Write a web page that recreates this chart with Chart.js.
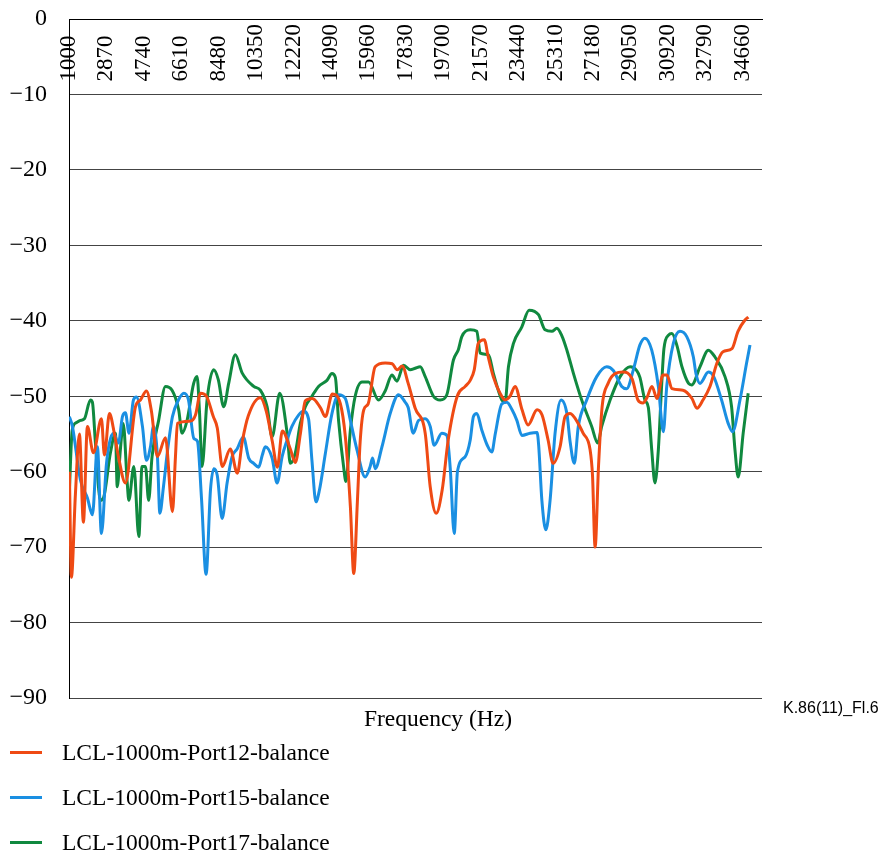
<!DOCTYPE html>
<html>
<head>
<meta charset="utf-8">
<title>LCL balance, 1000 m cable</title>
<script src="https://cdn.jsdelivr.net/npm/chart.js@4.4.1/dist/chart.umd.min.js"></script>
<style>
  html, body { margin: 0; padding: 0; background: #ffffff; }
  #wrap { position: relative; width: 883px; height: 853px; overflow: hidden; }
  #chart { position: absolute; left: 0; top: 0; }
  .serif { font-family: "Liberation Serif", "Times New Roman", serif; color: #000; white-space: nowrap; position: absolute; }
  #xtitle { left: 438px; top: 718px; transform: translate(-50%, -50%); font-size: 23.5px; }
  #figid { left: 783px; top: 708px; transform: translateY(-50%); font-family: "Liberation Sans", Arial, sans-serif; font-size: 16px; color: #000; position: absolute; white-space: nowrap; }
  .lg-mark { position: absolute; left: 10px; width: 32px; height: 3px; }
  .lg-text { left: 62px; transform: translateY(-50%); font-size: 23.5px; }
</style>
</head>
<body>
<div id="wrap">
  <canvas id="chart" width="883" height="853"></canvas>
  <div id="xtitle" class="serif">Frequency (Hz)</div>
  <div id="figid">K.86(11)_Fl.6</div>
  <div id="legend"></div>
</div>
<script>
// Frequency tick labels shown along the top of the plot (Hz)
const freqTicks = [1000, 2870, 4740, 6610, 8480, 10350, 12220, 14090, 15960, 17830,
                   19700, 21570, 23440, 25310, 27180, 29050, 30920, 32790, 34660];

// Series names
const seriesNames = ['LCL-1000m-Port12-balance', 'LCL-1000m-Port15-balance', 'LCL-1000m-Port17-balance'];

// LCL measurements, [frequency Hz, level dB]
const port12 = [
  [1020,-60],[1120,-74],[1320,-63],[1520,-55],[1720,-66.7],[1920,-54],[2220,-57.5],[2620,-53],
  [2770,-57.8],[3020,-52.3],[3270,-55],[3470,-58],[3820,-61.5],[4320,-51.4],[4570,-50.5],[4870,-49.3],
  [5120,-52],[5420,-58],[5820,-55.5],[6170,-65.3],[6320,-58],[6420,-53.6],[7070,-53.3],[7320,-52.5],
  [7570,-49.6],[7870,-50],[8210,-52.7],[8410,-54.2],[8660,-59.3],[9060,-57],[9410,-60.2],[9660,-56],
  [9960,-52.6],[10560,-50.2],[10860,-52],[11160,-56],[11410,-59.4],[11660,-54.6],[12060,-57],[12310,-58.8],
  [12560,-55],[12810,-50.6],[13160,-50.3],[13560,-51.5],[13810,-52.7],[14160,-49.7],[14560,-51],[14810,-55.4],
  [15060,-64.6],[15230,-73.5],[15410,-64],[15550,-56],[15730,-51.8],[15950,-51],[16300,-46.1],[16800,-45.6],
  [17150,-45.7],[17400,-46.5],[17650,-46],[17950,-48.3],[18300,-51.6],[18800,-54.9],[19050,-62],[19350,-65.5],
  [19650,-62.4],[19950,-55.8],[20400,-50],[20800,-48.7],[21050,-47.9],[21250,-46.5],[21450,-43],[21750,-42.5],
  [21950,-44.8],[22200,-47.4],[22540,-49.6],[22790,-50.5],[23040,-50],[23290,-48.7],[23640,-51.8],[23940,-53.8],
  [24390,-51.8],[24640,-52.5],[24940,-55.8],[25190,-58.9],[25540,-56.7],[25790,-52.7],[26040,-52.3],[26440,-53.6],
  [26690,-54.9],[27040,-57.1],[27160,-60.5],[27290,-70],[27460,-59.3],[27640,-51.4],[27940,-48.3],[28290,-47],
  [28690,-46.8],[29140,-47.7],[29430,-50.5],[29680,-50.9],[29880,-50.2],[30130,-48.7],[30380,-50.3],[30680,-47.2],
  [30880,-47.2],[31130,-49],[31680,-49.2],[32130,-50.3],[32380,-51.6],[32680,-50.5],[33030,-48.7],[33380,-45.6],
  [33680,-44.1],[34130,-43.7],[34430,-41.4],[34780,-39.9],[34950,-39.5]
];

const port15 = [
  [1020,-52.7],[1170,-54],[1570,-61.1],[1920,-63.5],[2170,-65.7],[2420,-56.7],[2620,-68.2],[2870,-59],
  [3020,-56.2],[3220,-54.9],[3470,-56.2],[3670,-52.7],[3820,-52.2],[4000,-54.9],[4220,-50.5],[4370,-50.1],
  [4670,-54],[4870,-58.5],[5070,-56.7],[5220,-54],[5420,-58],[5540,-65.5],[5720,-62],[5920,-57.3],
  [6170,-52.7],[6470,-50.5],[6740,-49.6],[6970,-50.5],[7240,-55.6],[7420,-56],[7620,-63.5],[7850,-73.6],
  [8070,-62.4],[8240,-59.6],[8410,-60.5],[8650,-66.2],[8900,-61.5],[9150,-58],[9400,-57],[9710,-55.4],
  [9980,-58.2],[10230,-58.9],[10480,-59.4],[10660,-57.8],[10810,-56.7],[11150,-58.2],[11400,-61.5],[11650,-58],
  [11900,-55.8],[12140,-54],[12470,-52.5],[12720,-52],[12970,-53],[13140,-58.5],[13340,-64],[13510,-62.5],
  [13810,-57.6],[14140,-52.3],[14470,-49.8],[14810,-50.3],[15060,-53.2],[15390,-57.1],[15800,-60.7],[16050,-59.3],
  [16170,-58.2],[16300,-59.6],[16640,-56.7],[17050,-52.3],[17470,-49.8],[17800,-50.8],[17950,-51.5],[18200,-54.9],
  [18470,-53.2],[18800,-53],[19050,-54],[19250,-56.5],[19630,-54.9],[19880,-55.2],[20050,-59.5],[20250,-68.2],
  [20410,-60],[20800,-58],[21050,-55.8],[21210,-52.7],[21380,-52.3],[21630,-54.5],[21900,-56.5],[22130,-57.4],
  [22300,-55],[22630,-51],[22880,-50.8],[23140,-51.8],[23380,-53.2],[23630,-55.2],[24040,-54.9],[24390,-54.8],
  [24470,-56.5],[24630,-63.8],[24830,-67.7],[25040,-63.8],[25290,-54.9],[25590,-50.5],[25880,-52.3],[26040,-56],
  [26250,-58.9],[26450,-54],[26870,-50.5],[27370,-47.4],[27870,-46.1],[28200,-46.6],[28620,-48.7],[28870,-49],
  [29200,-46.5],[29530,-43.2],[29780,-42.3],[30120,-43.9],[30450,-48.7],[30700,-54.7],[30870,-48.7],[31200,-43],
  [31530,-41.4],[31870,-42.1],[32200,-44.8],[32330,-47],[32530,-48.3],[32950,-46.8],[33200,-47.3],[33610,-50.5],
  [33940,-53.6],[34160,-54.7],[34530,-50.5],[34860,-45.6],[35030,-43.2]
];

const port17 = [
  [1020,-62.4],[1160,-54.5],[1370,-53.5],[1570,-53.2],[1770,-53],[2070,-50.5],[2170,-50.8],[2320,-56.2],
  [2570,-63.8],[2720,-63.5],[3070,-57.5],[3320,-54.9],[3410,-62],[3570,-57],[3710,-53.6],[3910,-61.5],
  [3990,-63.8],[4240,-59.3],[4490,-68.6],[4650,-59.3],[4820,-59.3],[4980,-63.8],[5150,-58],[5480,-53.2],
  [5820,-48.7],[6150,-49.2],[6480,-51.8],[6650,-54.9],[6900,-53.2],[7230,-48.3],[7400,-47.4],[7520,-52],
  [7650,-59.3],[7900,-50.5],[8230,-46.5],[8460,-47.8],[8730,-51.4],[8980,-48.3],[9310,-44.5],[9650,-46.9],
  [10230,-48.7],[10560,-49.2],[10900,-51.4],[11150,-55.4],[11530,-49.6],[11900,-54.9],[12060,-58.9],[12310,-57.5],
  [12560,-53.6],[12810,-51.4],[13140,-50],[13470,-48.7],[13890,-47.9],[14140,-47],[14310,-47.5],[14470,-53.2],
  [14720,-59.3],[14840,-61.3],[15060,-54.5],[15300,-50],[15640,-48.1],[15970,-48.1],[16470,-50.5],[16800,-49.3],
  [17140,-47.2],[17390,-48],[17720,-45.9],[18050,-46.5],[18300,-46.3],[18550,-46.1],[18800,-47.4],[19210,-50],
  [19550,-50.5],[19880,-49.8],[20210,-45.2],[20460,-43.8],[20630,-42.1],[21050,-41.2],[21380,-41.4],[21550,-44.3],
  [21960,-44.5],[22210,-47],[22630,-50.5],[22790,-50.8],[22960,-46.1],[23210,-43],[23630,-40.8],[23990,-38.6],
  [24460,-39.2],[24790,-41.2],[25130,-41.4],[25380,-41],[25630,-42],[25880,-43.9],[26210,-47],[26620,-50.5],
  [27120,-54],[27420,-56.2],[27620,-54],[28040,-50.5],[28540,-47.4],[29040,-46.1],[29370,-46.6],[29530,-47.5],
  [29780,-50.5],[29950,-51.5],[30120,-57.1],[30280,-61.5],[30450,-57.1],[30620,-48.3],[30730,-43.7],[30960,-41.9],
  [31130,-41.7],[31380,-43.3],[31630,-46.1],[31960,-48.3],[32120,-48.5],[32530,-46.1],[32950,-43.9],[33280,-44.8],
  [33780,-47.4],[34110,-51.4],[34280,-57.1],[34440,-60.7],[34690,-54.9],[34940,-49.6]
];

const seriesColors = ['#ef4a14', '#1a8fe2', '#10893f'];
const seriesData = [port12, port15, port17];

const serifFont = '"Liberation Serif", "Times New Roman", serif';

const datasets = seriesData.map((pts, i) => ({
  label: seriesNames[i],
  data: pts.map(([f, v]) => ({ x: f, y: v })),
  borderColor: seriesColors[i],
  backgroundColor: seriesColors[i],
  borderWidth: 3,
  pointRadius: 0,
  fill: false,
  cubicInterpolationMode: 'monotone'
}));

const chart = new Chart(document.getElementById('chart'), {
  type: 'line',
  data: { datasets },
  options: {
    responsive: false,
    animation: false,
    devicePixelRatio: 1,
    layout: { padding: { left: 0, top: 19, right: 121, bottom: 155 } },
    plugins: { legend: { display: false }, title: { display: false }, tooltip: { enabled: false } },
    scales: {
      x: {
        type: 'linear',
        position: { y: 0 },
        min: 1000,
        max: 35630,
        afterBuildTicks: (scale) => { scale.ticks = freqTicks.map(v => ({ value: v })); },
        grid: { display: false, drawTicks: false },
        border: { display: true, color: '#000', width: 1 },
        ticks: {
          autoSkip: false,
          minRotation: 90,
          maxRotation: 90,
          padding: 5,
          color: '#000',
          font: { family: serifFont, size: 23 },
          // pad four-digit labels so every label ends on the same baseline
          callback: (v) => { const s = String(v); return s.length < 5 ? s + '  ' : s; }
        }
      },
      y: {
        type: 'linear',
        min: -90,
        max: 0,
        afterFit: (scale) => { scale.width = 69; },
        grid: { color: '#444', lineWidth: 1, drawTicks: true, tickLength: 19, tickColor: 'rgba(0,0,0,0)' },
        border: { display: true, color: '#000', width: 1 },
        ticks: {
          stepSize: 10,
          padding: 3,
          color: '#000',
          font: { family: serifFont, size: 24 },
          callback: (v) => v === 0 ? '0' : '\u2212' + Math.abs(v)
        }
      }
    }
  }
});

// Legend rows under the plot
const legendRows = [752, 797, 842];
const legendEl = document.getElementById('legend');
chart.data.datasets.forEach((ds, i) => {
  const mark = document.createElement('div');
  mark.className = 'lg-mark';
  mark.style.top = (legendRows[i] - 1.5) + 'px';
  mark.style.background = ds.borderColor;
  legendEl.appendChild(mark);
  const txt = document.createElement('div');
  txt.className = 'serif lg-text';
  txt.style.top = legendRows[i] + 'px';
  txt.textContent = ds.label;
  legendEl.appendChild(txt);
});
</script>
</body>
</html>
